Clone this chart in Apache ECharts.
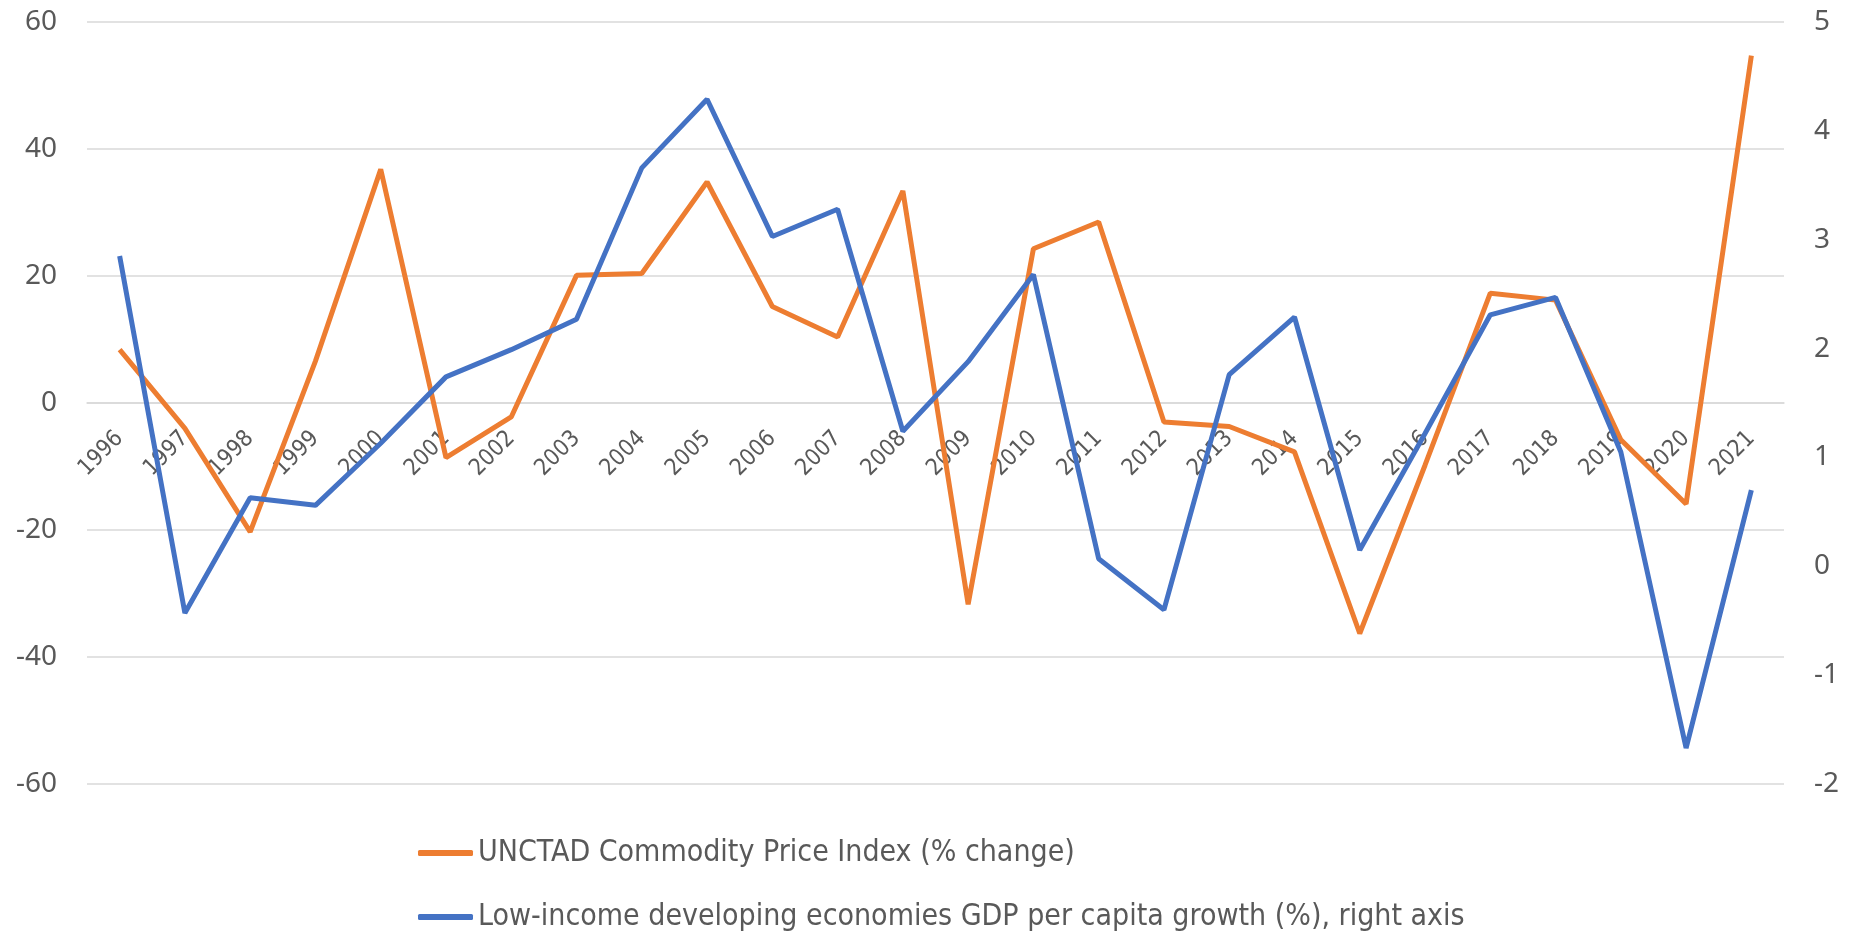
<!DOCTYPE html>
<html>
<head>
<meta charset="utf-8">
<script src="https://cdn.jsdelivr.net/npm/echarts@6/dist/echarts.min.js"></script>
<style>
html,body{margin:0;padding:0;background:#fff;}
#c{width:1852px;height:934px;}
</style>
</head>
<body>
<div id="c"></div>
<script>
const years = ['1996','1997','1998','1999','2000','2001','2002','2003','2004','2005','2006','2007','2008','2009','2010','2011','2012','2013','2014','2015','2016','2017','2018','2019','2020','2021'];
const commodityIndex = [8.4,-4.0,-20.3,6.6,36.8,-8.6,-2.2,20.1,20.4,34.8,15.2,10.4,33.4,-31.7,24.3,28.5,-3.0,-3.7,-7.7,-36.3,-9.8,17.3,16.2,-5.8,-15.9,54.7];
const gdpGrowth = [2.85,-0.43,0.63,0.56,1.13,1.74,1.99,2.27,3.66,4.29,3.03,3.28,1.24,1.88,2.68,0.07,-0.40,1.76,2.29,0.15,1.22,2.31,2.47,1.05,-1.67,0.70];
const leftTicks = {min:-60, max:60, interval:20};
const rightTicks = {min:-2, max:5, interval:1};
const seriesNames = ['UNCTAD Commodity Price Index (% change)','Low-income developing economies GDP per capita growth (%), right axis'];

const condensed = '"DejaVu Sans Condensed", "Liberation Sans Narrow", "DejaVu Sans", sans-serif';
const gridTop = 22, gridBottom = 150, chartH = 934;
// place the category axis at the left axis' zero line (Excel "axis crosses at 0")
const plotH = chartH - gridTop - gridBottom;
const zeroShift = -plotH * (0 - leftTicks.min) / (leftTicks.max - leftTicks.min);

const chart = echarts.init(document.getElementById('c'));
const legendText = {fontFamily:condensed,fontSize:30,color:'#595959',lineHeight:38};
chart.setOption({
  animation:false,
  backgroundColor:'#ffffff',
  grid:{left:87,right:68,top:gridTop,bottom:gridBottom,containLabel:false},
  legend:[
    {data:[seriesNames[0]],left:413,top:829,itemWidth:55,itemHeight:6,icon:'roundRect',textStyle:legendText},
    {data:[seriesNames[1]],left:413,top:893,itemWidth:55,itemHeight:6,icon:'roundRect',textStyle:legendText}
  ],
  xAxis:{
    type:'category',data:years,boundaryGap:true,offset:zeroShift,
    axisLine:{show:true,onZero:false,lineStyle:{color:'#d9d9d9',width:1.5}},
    axisTick:{show:false},
    axisLabel:{rotate:45,interval:0,margin:32,fontFamily:condensed,fontSize:23,color:'#595959'}
  },
  yAxis:[
    {type:'value',min:leftTicks.min,max:leftTicks.max,interval:leftTicks.interval,
     axisLine:{show:false},axisTick:{show:false},
     axisLabel:{margin:30,fontFamily:'"Noto Sans", sans-serif',fontSize:28,color:'#595959'},
     splitLine:{show:true,lineStyle:{color:'#d9d9d9',width:1.5}}},
    {type:'value',min:rightTicks.min,max:rightTicks.max,interval:rightTicks.interval,position:'right',
     axisLine:{show:false},axisTick:{show:false},
     axisLabel:{margin:30,fontFamily:'"Noto Sans", sans-serif',fontSize:28,color:'#595959'},
     splitLine:{show:false}}
  ],
  series:[
    {name:seriesNames[0],type:'line',data:commodityIndex,yAxisIndex:0,symbol:'none',
     lineStyle:{color:'#ED7D31',width:5},itemStyle:{color:'#ED7D31'}},
    {name:seriesNames[1],type:'line',data:gdpGrowth,yAxisIndex:1,symbol:'none',
     lineStyle:{color:'#4472C4',width:5},itemStyle:{color:'#4472C4'}}
  ]
});
</script>
</body>
</html>
